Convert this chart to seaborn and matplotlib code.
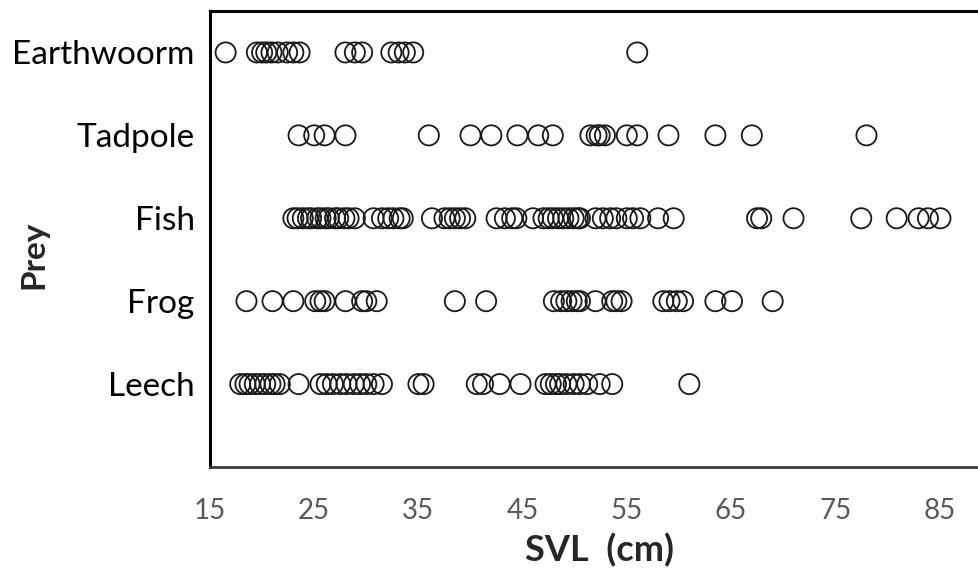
import matplotlib
matplotlib.use("Agg")
import matplotlib.pyplot as plt
import seaborn as sns
import pandas as pd

categories = ["Leech", "Frog", "Fish", "Tadpole", "Earthwoorm"]

leech = [17.9, 18.4, 18.8, 19.3, 19.8, 20.3, 20.8, 21.2, 21.7, 23.5,
         25.6, 26.2, 26.8, 27.5, 28.1, 28.8, 29.4, 30.0, 30.7, 31.5,
         35.0, 35.5, 40.6, 41.2, 42.8, 44.8,
         47.2, 47.7, 48.2, 48.6, 49.2, 49.9, 50.5, 51.2, 52.4, 53.6, 61.0]
frog = [18.5, 21.0, 23.0, 25.1, 25.6, 26.0, 28.0, 29.6, 30.0, 31.0,
        38.5, 41.5, 48.0, 48.7, 49.2, 49.7, 50.2, 50.5, 52.0, 53.6, 54.0, 54.5,
        58.5, 59.1, 59.8, 60.4, 63.5, 65.1, 69.0]
fish = [23.0, 23.4, 23.9, 24.4, 24.7, 25.3, 25.6, 26.1, 26.4, 27.0, 27.3, 27.9, 28.3, 28.9,
        30.7, 31.5, 32.1, 32.6, 33.2, 33.5,
        36.3, 37.5, 38.0, 38.5, 39.0, 39.5,
        42.5, 43.3, 44.0, 44.4, 46.0, 47.0, 47.5, 47.9, 48.4, 48.9, 49.4, 49.9, 50.3,
        50.5, 52.0, 52.7, 53.4, 54.0, 55.0, 55.6, 56.3, 58.0, 59.5,
        67.5, 67.9, 71.0, 77.5, 80.9, 83.0, 83.9, 85.1]
tadpole = [23.5, 25.0, 26.0, 28.0, 36.0, 40.0, 42.0, 44.5, 46.5, 47.9,
           51.5, 52.1, 52.4, 52.9, 55.0, 56.0, 59.0, 63.5, 67.0, 78.0]
earthworm = [16.5, 19.5, 20.0, 20.4, 20.9, 21.5, 22.4, 23.0, 23.6,
             28.0, 28.9, 29.6, 32.4, 33.1, 33.7, 34.5, 56.0]

x_ticks = [15, 25, 35, 45, 55, 65, 75, 85]

series = [leech, frog, fish, tadpole, earthworm]
rows = []
for i, (cat, vals) in enumerate(zip(categories, series)):
    for v in vals:
        rows.append({"Prey": cat, "pos": i, "SVL": v})
df = pd.DataFrame(rows)

sns.set_style("white")
plt.rcParams["font.family"] = ["Lato", "DejaVu Sans"]

fig = plt.figure(figsize=(9.79, 5.84), dpi=100)
ax = fig.add_axes([210 / 979, (584 - 467) / 584, 1 - 210 / 979, (467 - 11) / 584])

sns.scatterplot(data=df, x="SVL", y="pos", ax=ax, s=210, marker="o",
                facecolor="none", edgecolor="#1a1a1a", linewidth=1.3, legend=False)

ax.set_xlim(15, 88.8)
ax.set_ylim(-1, 4.5)
ax.set_xticks(x_ticks)
ax.set_xticklabels([str(t) for t in x_ticks], fontsize=20, color="#595959")
ax.set_yticks(range(len(categories)))
ax.set_yticklabels(categories, fontsize=24, color="black")
ax.tick_params(axis="x", length=0, pad=22)
ax.tick_params(axis="y", length=0, pad=11)

ax.set_xlabel("SVL  (cm)", fontsize=26, fontweight="bold")
ax.xaxis.set_label_coords(0.506, -0.145)
ax.set_ylabel("Prey", fontsize=24, fontweight="bold")
ax.yaxis.set_label_coords(-0.21, 0.465)

for side in ["left", "top"]:
    ax.spines[side].set_color("black")
    ax.spines[side].set_linewidth(2.2)
ax.spines["bottom"].set_color("#3a3a3a")
ax.spines["bottom"].set_linewidth(2.0)
ax.spines["right"].set_visible(False)

fig.savefig("out.png", dpi=100)
